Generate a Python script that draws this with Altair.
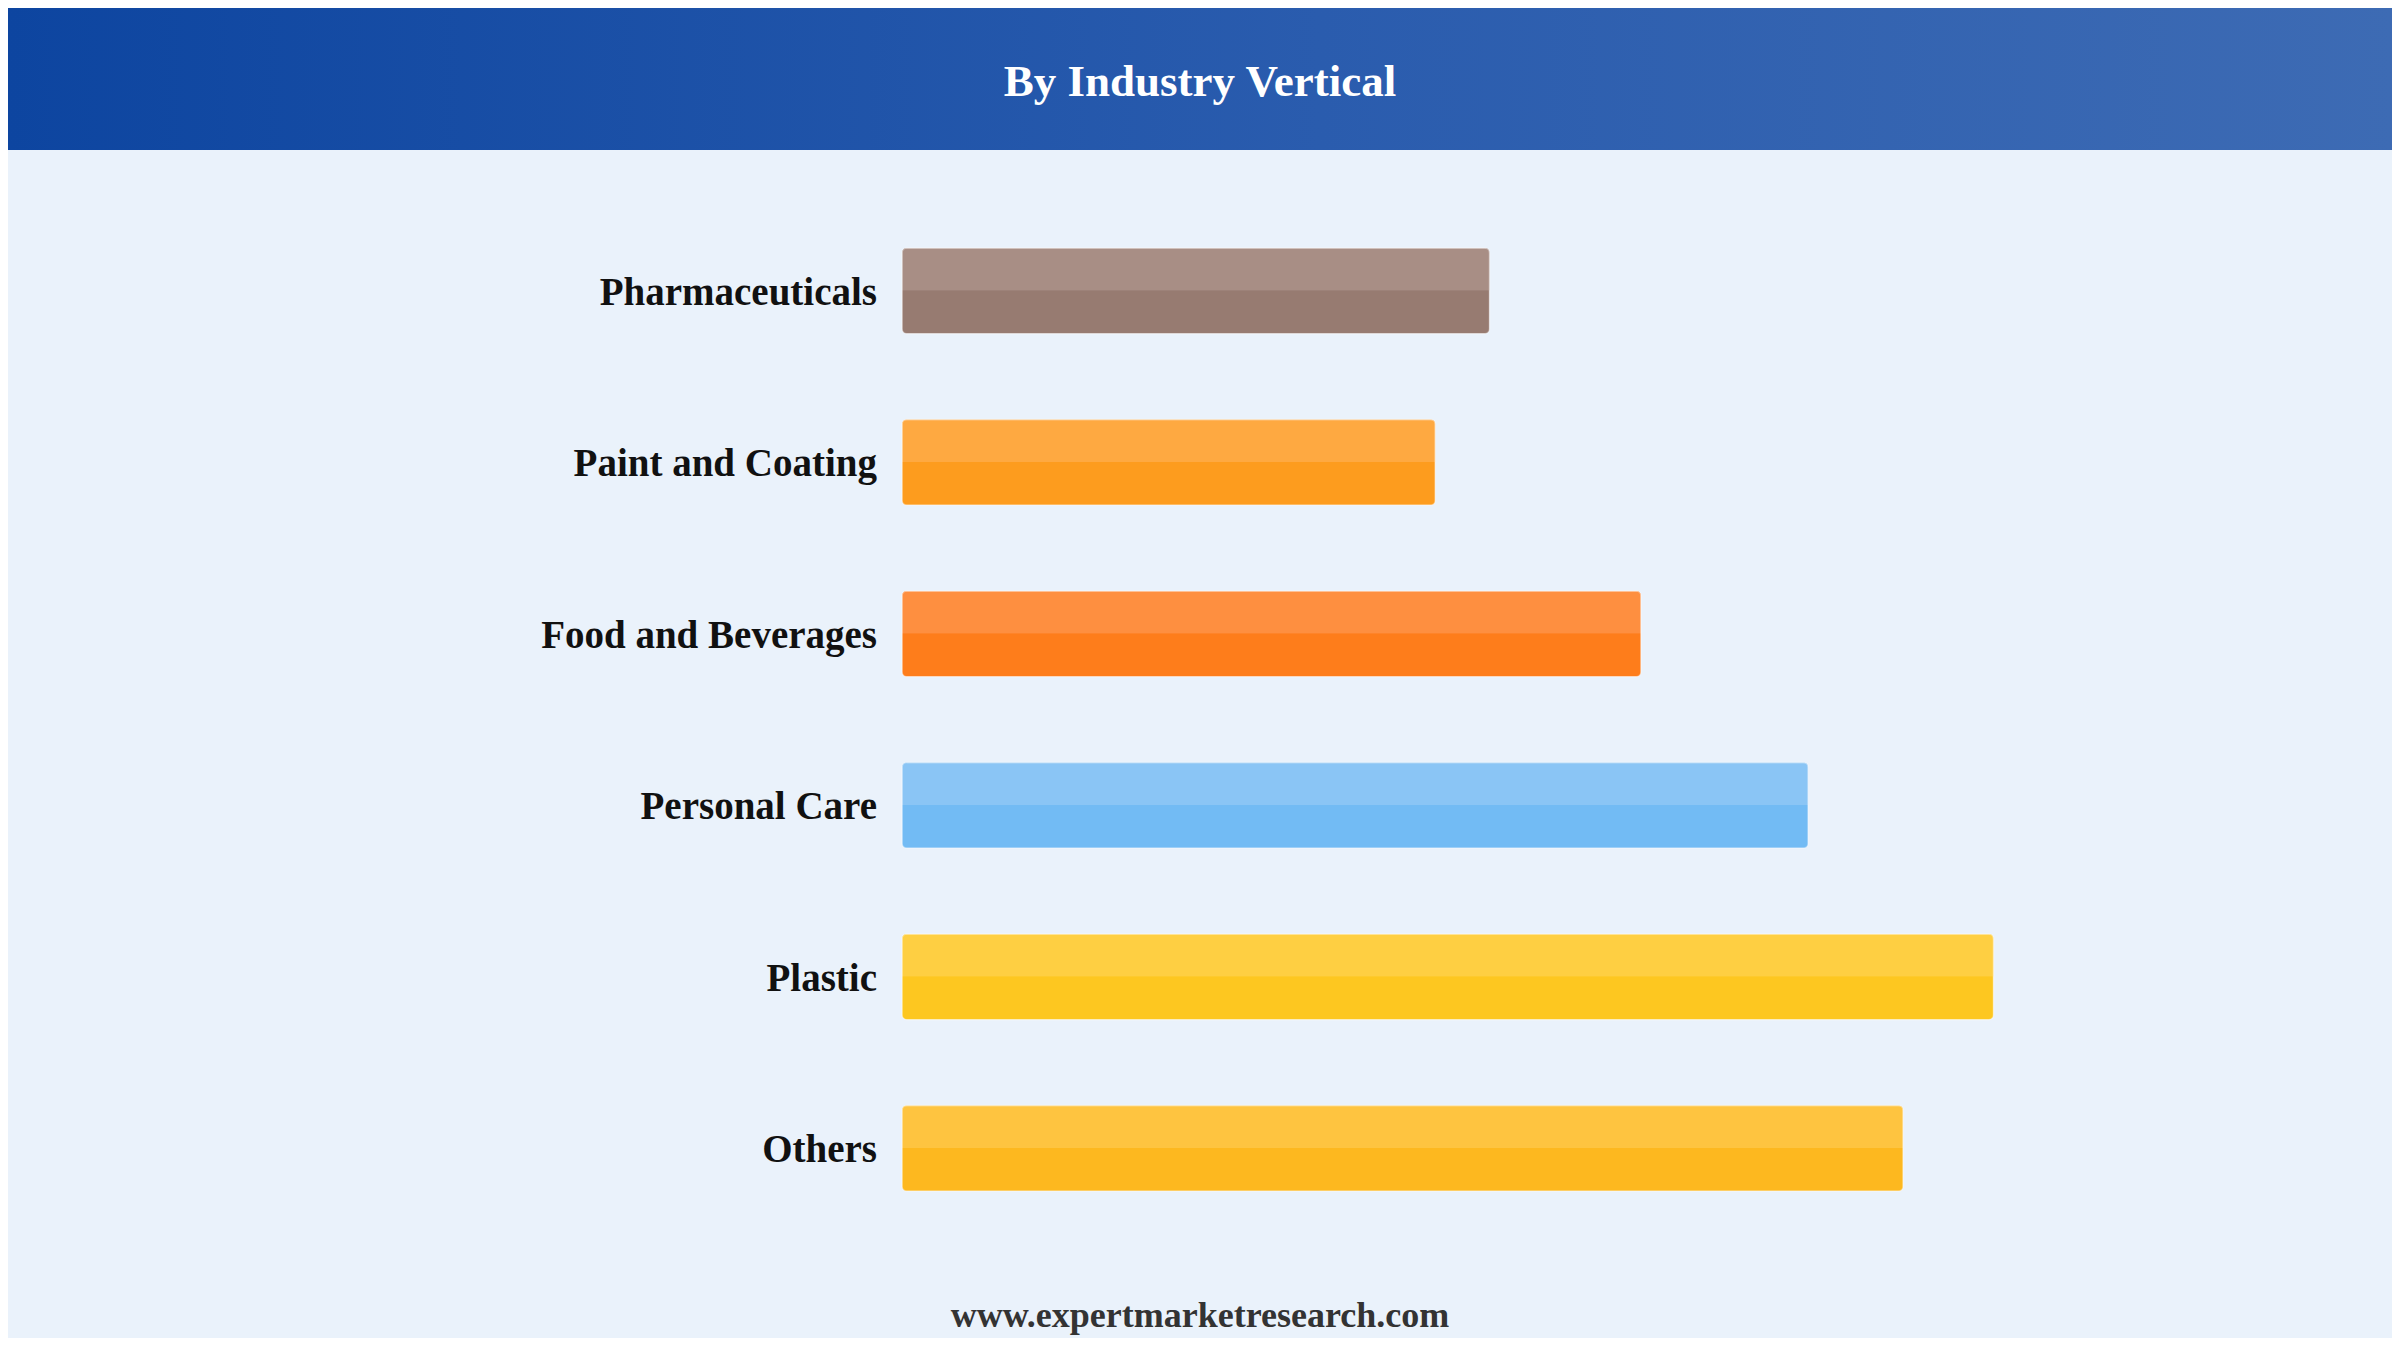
import pandas as pd
import altair as alt

# data
categories = ["Pharmaceuticals", "Paint and Coating", "Food and Beverages",
              "Personal Care", "Plastic", "Others"]
values = [13.0, 11.8, 16.35, 20.05, 24.15, 22.15]
dark_colors = ["#977b71", "#fd9c1e", "#fe7d1b", "#72bbf4", "#fdc720", "#fdb81f"]
light_colors = ["#a88e85", "#fea941", "#fe8f40", "#8ac5f5", "#fecf42", "#fec440"]

title_text = "By Industry Vertical"
footer_text = "www.expertmarketresearch.com"

W, H = 2384, 1330
BG = "#eaf2fb"
FONT = "Liberation Serif"

df = pd.DataFrame({
    "category": categories,
    "value": values,
    "dark": dark_colors,
    "light": light_colors,
})

y_enc = alt.Y("category:N", sort=categories, axis=None,
              scale=alt.Scale(domain=categories, range=[197, 1226],
                              paddingInner=0.5, paddingOuter=0.25))
x_enc = alt.X("value:Q", axis=None,
              scale=alt.Scale(domain=[0, 25], range=[894, 894 + 25 * 45.2]))

base = alt.Chart(df)

bar_dark = base.mark_bar(cornerRadius=5).encode(
    x=x_enc, y=y_enc, color=alt.Color("dark:N", scale=None)
)

bar_light = base.mark_bar(
    height=43, yOffset=-21.5,
    cornerRadiusTopLeft=5, cornerRadiusTopRight=5,
).encode(
    x=x_enc, y=y_enc, color=alt.Color("light:N", scale=None)
)

# faint light rim round each bar
bar_rim = base.mark_bar(
    cornerRadius=5, fillOpacity=0, stroke="white", strokeOpacity=0.35, strokeWidth=1.5
).encode(x=x_enc, y=y_enc)

labels = base.mark_text(
    align="right", baseline="middle", font=FONT, fontSize=39,
    fontWeight="bold", color="#111111", dy=2,
).encode(
    y=y_enc, x=alt.value(869), text="category:N"
)

one = alt.Chart(pd.DataFrame({"a": [0]}))

header = one.mark_rect(
    color=alt.Gradient(
        gradient="linear",
        stops=[alt.GradientStop(color="#0d45a0", offset=0),
               alt.GradientStop(color="#2a5cae", offset=0.55),
               alt.GradientStop(color="#3d6bb4", offset=1)],
        x1=0, x2=1, y1=0, y2=0,
    )
).encode(x=alt.value(0), x2=alt.value(W), y=alt.value(0), y2=alt.value(142))

title = one.mark_text(
    align="center", baseline="middle", font=FONT, fontSize=45,
    fontWeight="bold", color="white",
).encode(x=alt.value(1192), y=alt.value(74), text=alt.value(title_text))

footer = one.mark_text(
    align="center", baseline="middle", font=FONT, fontSize=36,
    fontWeight="bold", color="#333333",
).encode(x=alt.value(1192), y=alt.value(1308), text=alt.value(footer_text))

chart = alt.layer(header, title, bar_dark, bar_light, bar_rim, labels, footer).properties(
    width=W, height=H, autosize="none", padding=0, background=BG
).configure_view(stroke=None)

chart.save("out.html", embed_options={"renderer": "svg", "actions": False})
